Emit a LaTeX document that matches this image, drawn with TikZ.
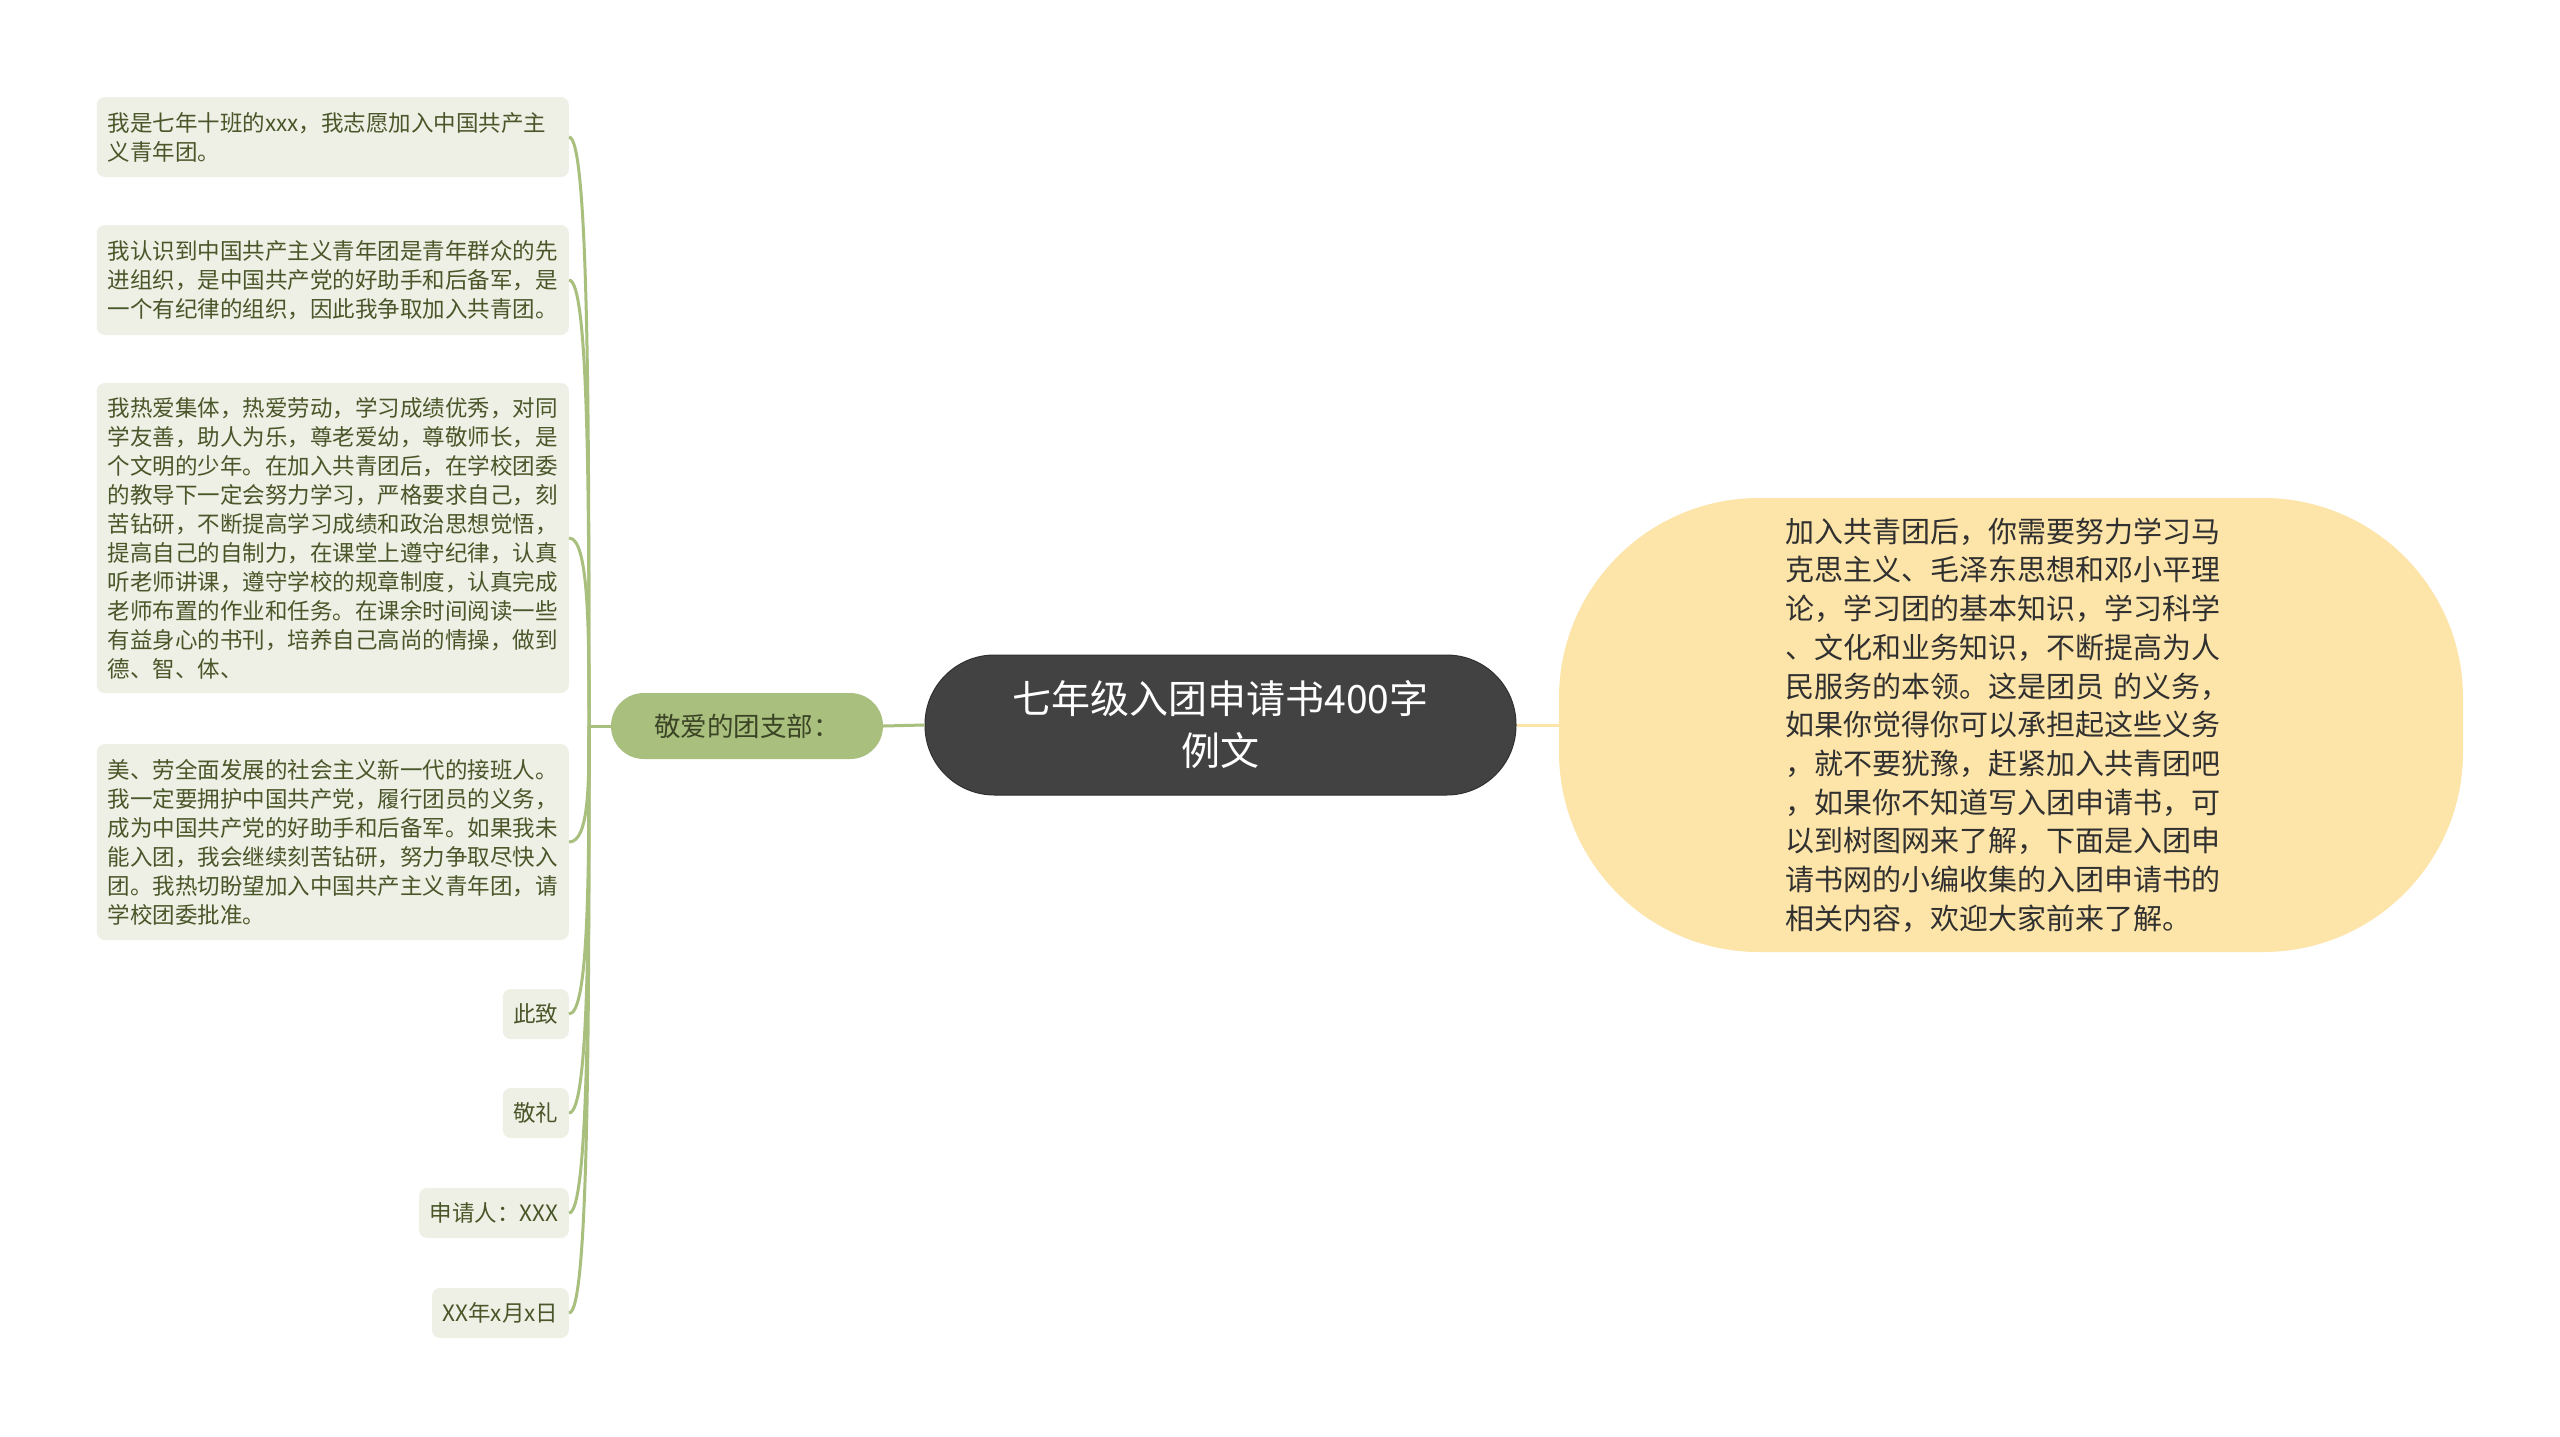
\documentclass[tikz,border=0pt]{standalone}
\usepackage{fontspec}
\newfontfamily\cjk{Noto Sans CJK SC}
\usetikzlibrary{calc}
\definecolor{childfill}{HTML}{EEF0E5}
\definecolor{childtext}{HTML}{4A5629}
\definecolor{branch}{HTML}{A8BF7E}
\definecolor{partext}{HTML}{3B4425}
\definecolor{rootfill}{HTML}{424242}
\definecolor{rootline}{HTML}{303030}
\definecolor{yelfill}{HTML}{FDE4A9}
\definecolor{yeltext}{HTML}{303030}
\begin{document}
\begin{tikzpicture}[x=1pt,y=-1pt,
  childbox/.style={anchor=east, fill=childfill, text=childtext, rounded corners=8pt,
    inner xsep=11pt, inner ysep=10pt, align=left,
    font=\cjk\fontsize{22.5pt}{29pt}\selectfont},
  longbox/.style={childbox, text width=450pt},
  parbox/.style={fill=branch, text=partext, rounded corners=32.9pt,
    minimum width=272pt, minimum height=66pt, inner sep=0pt,
    font=\cjk\fontsize{26.5pt}{32pt}\selectfont},
  rootbox/.style={fill=rootfill, draw=rootline, line width=1pt, text=white,
    rounded corners=69.5pt, minimum width=591pt, minimum height=140pt,
    align=center, inner sep=0pt, font=\cjk\fontsize{39pt}{52pt}\selectfont},
  yelbox/.style={fill=yelfill, text=yeltext, rounded corners=200pt,
    minimum width=904pt, minimum height=454pt, inner sep=0pt,
    text width=452pt, align=left, font=\cjk\fontsize{29pt}{38.7pt}\selectfont},
  conn/.style={draw=branch, line width=3pt},
  yconn/.style={draw=yelfill, line width=3pt}
]
\useasboundingbox (0,0) rectangle (2560,1436);
\fill[white] (0,0) rectangle (2560,1436);

% root and main branches
\node[rootbox] (root) at (1220.5,725) {七年级入团申请书400字\\例文};
\node[parbox] (par) at (747,726) {敬爱的团支部：};
\node[yelbox] (yel) at (2011,725) {加入共青团后，你需要努力学习马\\克思主义、毛泽东思想和邓小平理\\论，学习团的基本知识，学习科学\\、文化和业务知识，不断提高为人\\民服务的本领。这是团员~的义务，\\如果你觉得你可以承担起这些义务\\，就不要犹豫，赶紧加入共青团吧\\，如果你不知道写入团申请书，可\\以到树图网来了解，下面是入团申\\请书网的小编收集的入团申请书的\\相关内容，欢迎大家前来了解。};

% children
\node[longbox, minimum height=80pt] (c1) at (569,137) {我是七年十班的xxx，我志愿加入中国共产主\\义青年团。};
\node[longbox, minimum height=110pt] (c2) at (569,280) {我认识到中国共产主义青年团是青年群众的先\\进组织，是中国共产党的好助手和后备军，是\\一个有纪律的组织，因此我争取加入共青团。};
\node[longbox, minimum height=310pt] (c3) at (569,538) {我热爱集体，热爱劳动，学习成绩优秀，对同\\学友善，助人为乐，尊老爱幼，尊敬师长，是\\个文明的少年。在加入共青团后，在学校团委\\的教导下一定会努力学习，严格要求自己，刻\\苦钻研，不断提高学习成绩和政治思想觉悟，\\提高自己的自制力，在课堂上遵守纪律，认真\\听老师讲课，遵守学校的规章制度，认真完成\\老师布置的作业和任务。在课余时间阅读一些\\有益身心的书刊，培养自己高尚的情操，做到\\德、智、体、};
\node[longbox, minimum height=196pt] (c4) at (569,842) {美、劳全面发展的社会主义新一代的接班人。\\我一定要拥护中国共产党，履行团员的义务，\\成为中国共产党的好助手和后备军。如果我未\\能入团，我会继续刻苦钻研，努力争取尽快入\\团。我热切盼望加入中国共产主义青年团，请\\学校团委批准。};
\node[childbox, minimum height=50pt, inner xsep=10.5pt] (c5) at (569,1014) {此致};
\node[childbox, minimum height=50pt, inner xsep=10.5pt] (c6) at (569,1113) {敬礼};
\node[childbox, minimum height=50pt, inner xsep=10.5pt] (c7) at (569,1213) {申请人：XXX};
\node[childbox, minimum height=50pt, inner xsep=10.5pt] (c8) at (569,1313) {XX年x月x日};

% connectors
\coordinate (J) at (589,726);
\draw[conn] (par.east) -- (root.west);
\draw[yconn] (root.east) -- (yel.west);
\draw[conn] (par.west) -- (J);
\foreach \c in {c1,c2,c3,c4,c5,c6,c7,c8}{
  \draw[conn] (J) .. controls ($(J)!0.5!(J |- \c.east)$) and (J |- \c.east) .. (\c.east);
}
\end{tikzpicture}
\end{document}
